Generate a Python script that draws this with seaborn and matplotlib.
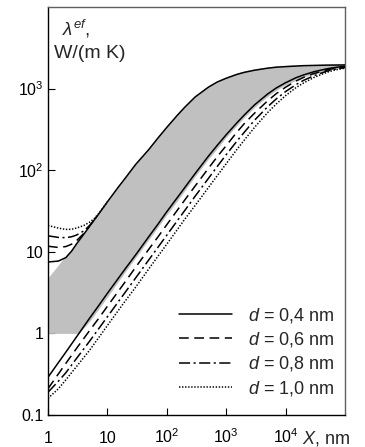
import matplotlib
matplotlib.use("Agg")
import matplotlib.pyplot as plt
from matplotlib.lines import Line2D
import seaborn as sns

# values (X in nm, lambda in W/(m K))
x_low = [1, 1.5, 2, 3, 5, 7, 10, 20, 30, 50, 70, 100, 200, 300, 500, 700,
         1e3, 1.5e3, 2e3, 3e3, 5e3, 7e3, 1e4, 1.5e4, 2e4, 3e4, 5e4, 7e4, 1e5]

# lower family of curves
low_04 = [0.29, 0.44, 0.59, 0.9, 1.53, 2.15, 3.1, 6.2, 9.2, 15.4, 21.5, 31, 61, 91, 148, 200,
          272, 378, 472, 632, 860, 1020, 1180, 1360, 1470, 1610, 1750, 1820, 1880]
low_06 = [0.21, 0.32, 0.43, 0.65, 1.08, 1.5, 2.15, 4.3, 6.5, 10.8, 15, 21.5, 43, 64, 105, 145,
          200, 290, 370, 500, 710, 870, 1040, 1240, 1370, 1530, 1700, 1780, 1840]
low_08 = [0.19, 0.26, 0.33, 0.49, 0.8, 1.12, 1.6, 3.2, 4.8, 8.0, 11.2, 16, 32, 48, 79, 110,
          155, 225, 290, 410, 600, 750, 920, 1120, 1260, 1440, 1640, 1740, 1810]
low_10 = [0.16, 0.21, 0.27, 0.39, 0.62, 0.87, 1.25, 2.5, 3.7, 6.2, 8.7, 12.4, 25, 37, 61, 85,
          120, 178, 232, 335, 510, 650, 820, 1030, 1170, 1370, 1590, 1700, 1780]

# upper curve, d = 0,4 nm
x_up = [1, 1.5, 2, 2.5, 3, 4, 5, 7, 10, 15, 20, 30, 50, 70, 100, 150, 200, 300, 500, 700,
        1e3, 1.5e3, 2e3, 3e3, 5e3, 7e3, 1e4, 2e4, 5e4, 1e5]
up_04 = [7.5, 7.7, 8.5, 10.2, 12.4, 16.4, 20.5, 28.5, 41, 61, 80, 118, 180, 245, 335, 470,
         590, 790, 1040, 1200, 1340, 1490, 1580, 1680, 1780, 1830, 1860, 1910, 1940, 1950]

# upper curves for the larger d, until they merge with the d = 0,4 nm curve
x_up06 = [1, 1.5, 2, 2.5, 3, 4, 5]
up_06 = [11.7, 11.3, 11.6, 12.4, 13.6, 16.8, 20.6]
x_up08 = [1, 1.5, 2, 2.5, 3, 4, 5, 6, 7]
up_08 = [15.7, 15.0, 14.9, 15.3, 16.0, 18.0, 21.0, 24.6, 28.6]
x_up10 = [1, 1.5, 2, 2.5, 3, 4, 5, 6, 7, 8.5, 10]
up_10 = [21.0, 19.5, 18.8, 18.9, 19.5, 21.0, 23.0, 25.6, 29.0, 34.8, 41.2]

# grey band
band_x = [1, 2, 3.3, 5, 7, 10, 20, 30, 50, 70, 100, 150, 200, 300, 500, 700,
          1e3, 1.5e3, 2e3, 3e3, 5e3, 7e3, 1e4, 2e4, 5e4, 1e5]
band_lo = [1.0, 1.0, 1.0, 1.4, 1.95, 2.8, 5.7, 8.5, 14.2, 19.8, 28.5, 42, 56, 84, 137, 183,
           253, 350, 440, 590, 805, 960, 1110, 1390, 1670, 1840]
band_hi = [4.8, 9.0, 13.8, 21.5, 29.8, 42.5, 83, 123, 188, 255, 350, 490, 615, 820, 1080, 1245,
           1390, 1545, 1640, 1745, 1845, 1895, 1925, 1970, 1985, 1990]

labels = ["$d$ = 0,4 nm", "$d$ = 0,6 nm", "$d$ = 0,8 nm", "$d$ = 1,0 nm"]
x_ticks = [1, 10, 100, 1e3, 1e4]
x_ticklabels = ["1", "10", "$10^2$", "$10^3$", "$10^4$"]
y_ticks = [0.1, 1, 10, 100, 1000]
y_ticklabels = ["0.1", "1", "10", "$10^2$", "$10^3$"]

sns.set_theme(style="ticks")
plt.rcParams["font.family"] = ["Liberation Sans", "DejaVu Sans"]
plt.rcParams["mathtext.fontset"] = "custom"
plt.rcParams["mathtext.rm"] = "Liberation Sans"
plt.rcParams["mathtext.it"] = "Liberation Sans:italic"
plt.rcParams["lines.scale_dashes"] = False

styles = ["-", (0, (7, 4)), (0, (8, 2.5, 1.5, 2.5)), (0, (1, 1.2))]

fig = plt.figure(figsize=(3.65, 4.47), dpi=100)
ax = fig.add_axes([48 / 365, 1 - 415 / 447, 297 / 365, 408 / 447])
ax.set_xscale("log")
ax.set_yscale("log")

ax.fill_between(band_x, band_lo, band_hi, color="#c0c0c0", lw=0, zorder=1)

lw = 1.1
for ys, ls in zip([low_04, low_06, low_08, low_10], styles):
    sns.lineplot(x=x_low, y=ys, ax=ax, color="black", linestyle=ls, lw=lw,
                 estimator=None, sort=False, legend=False, zorder=3)

sns.lineplot(x=x_up, y=up_04, ax=ax, color="black", linestyle="-", lw=lw,
             estimator=None, sort=False, legend=False, zorder=3)
for xs, ys, ls in zip([x_up06, x_up08, x_up10], [up_06, up_08, up_10], styles[1:]):
    sns.lineplot(x=xs, y=ys, ax=ax, color="black", linestyle=ls, lw=lw,
                 estimator=None, sort=False, legend=False, zorder=3)

ax.set_xlim(1, 1e5)
ax.set_ylim(0.1, 1e4)
ax.set_xticks(x_ticks)
ax.set_xticklabels(x_ticklabels)
ax.set_yticks(y_ticks)
ax.set_yticklabels(y_ticklabels)
ax.minorticks_off()
ax.tick_params(direction="in", length=5, width=0.8, colors="black", labelsize=11.5)
# x labels sit on a common baseline, superscripts rise above it
ax.tick_params(axis="x", pad=20)
for lab in ax.get_xticklabels():
    lab.set_verticalalignment("baseline")
ax.tick_params(axis="y", pad=3)
for side in ["left", "bottom"]:
    ax.spines[side].set_color("black")
    ax.spines[side].set_linewidth(1.0)
for side in ["top", "right"]:
    ax.spines[side].set_color("#606060")
    ax.spines[side].set_linewidth(1.0)
ax.set_xlabel("")
ax.set_ylabel("")

handles = [Line2D([], [], color="black", linestyle=ls, lw=lw) for ls in styles]
ax.legend(handles, labels, loc="lower right", bbox_to_anchor=(0.995, 0.02),
          frameon=False, fontsize=13, handlelength=2.9, handletextpad=0.9,
          labelspacing=0.3, borderpad=0)

fig.text(62 / 365, 1 - 29 / 447, r"$\lambda^{ef}$,", fontsize=13.5, va="center", ha="left")
fig.text(54 / 365, 1 - 53 / 447, "W/(m K)", fontsize=14, va="center", ha="left")
fig.text(302 / 365, 1 - 443 / 447, "$X$, nm", fontsize=13, va="baseline", ha="left")

fig.savefig("out.png", dpi=100)
